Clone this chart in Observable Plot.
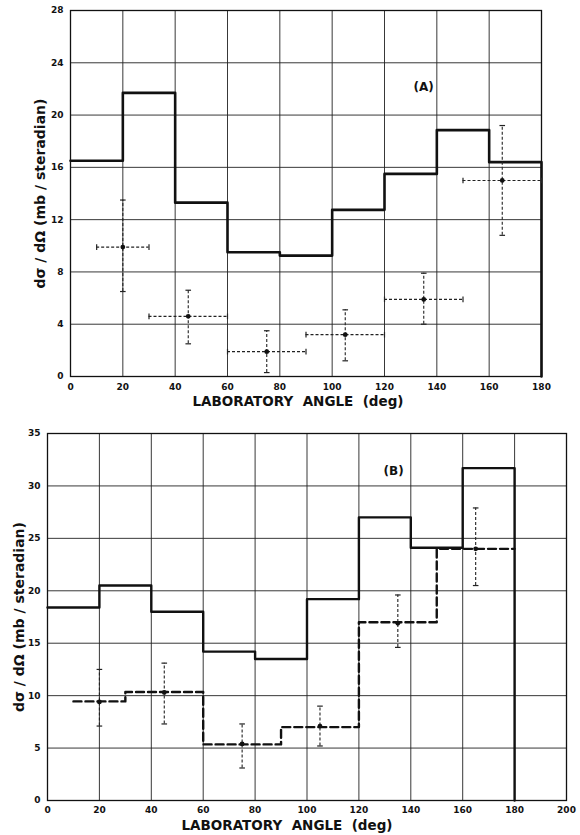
<!DOCTYPE html>
<html>
<head>
<meta charset="utf-8">
<script src="https://cdn.jsdelivr.net/npm/d3@7"></script>
<script src="https://cdn.jsdelivr.net/npm/@observablehq/plot@0.6"></script>
<style>
  html, body { margin: 0; padding: 0; background: #fff; }
  #chart { width: 580px; height: 835px; position: relative; }
  #chart svg { display: block; }
</style>
</head>
<body>
<div id="chart"></div>
<script>
// ---------- Panel (A) data ----------
const edgesA = [0, 20, 40, 60, 80, 100, 120, 140, 160, 180];
const histA = [16.5, 21.7, 13.3, 9.5, 9.25, 12.75, 15.5, 18.85, 16.4];
const ptAngleA = [20, 45, 75, 105, 135, 165];
const ptValueA = [9.9, 4.6, 1.9, 3.2, 5.9, 15.0];
const ptLowA   = [6.5, 2.5, 0.3, 1.2, 4.0, 10.8];
const ptHighA  = [13.5, 6.6, 3.5, 5.1, 7.9, 19.2];
const ptLeftA  = [10, 30, 60, 90, 120, 150];
const ptRightA = [30, 60, 90, 120, 150, 180];
const xTicksA = [0, 20, 40, 60, 80, 100, 120, 140, 160, 180];
const xTickLabelsA = ["0", "20", "40", "60", "80", "100", "120", "140", "160", "180"];
const yTicksA = [0, 4, 8, 12, 16, 20, 24, 28];

// ---------- Panel (B) data ----------
const edgesB = [0, 20, 40, 60, 80, 100, 120, 140, 160, 180];
const histB = [18.4, 20.5, 18.0, 14.2, 13.5, 19.2, 27.0, 24.1, 31.7];
const edgesB2 = [10, 30, 60, 90, 120, 150, 180];
const histB2 = [9.45, 10.35, 5.35, 7.0, 17.0, 24.0];
const ptAngleB = [20, 45, 75, 105, 135, 165];
const ptValueB = [9.4, 10.3, 5.4, 7.1, 16.9, 24.0];
const ptLowB   = [7.1, 7.3, 3.1, 5.2, 14.6, 20.5];
const ptHighB  = [12.5, 13.1, 7.3, 9.0, 19.6, 27.9];
const xTicksB = [0, 20, 40, 60, 80, 100, 120, 140, 160, 180, 200];
const yTicksB = [0, 5, 10, 15, 20, 25, 30, 35];

const xTitle = "LABORATORY  ANGLE  (deg)";
const yTitle = "dσ / dΩ (mb / steradian)";

// ---------- helpers ----------
function steps(edges, values, dropToZero) {
  const pts = values.map((v, i) => ({x: edges[i], y: v}));
  pts.push({x: edges[edges.length - 1], y: values[values.length - 1]});
  if (dropToZero) pts.push({x: edges[edges.length - 1], y: 0});
  return pts;
}
const capH = {draw(ctx, size) { const r = Math.sqrt(size / Math.PI); ctx.moveTo(-r, 0); ctx.lineTo(r, 0); }};
const capV = {draw(ctx, size) { const r = Math.sqrt(size / Math.PI); ctx.moveTo(0, -r); ctx.lineTo(0, r); }};

const FONT = "DejaVu Sans, Liberation Sans, sans-serif";
const dash = "3,2";

const ptsA = ptAngleA.map((x, i) => ({x, y: ptValueA[i], lo: ptLowA[i], hi: ptHighA[i], l: ptLeftA[i], r: ptRightA[i]}));
const ptsB = ptAngleB.map((x, i) => ({x, y: ptValueB[i], lo: ptLowB[i], hi: ptHighB[i]}));

// ---------- Panel A ----------
const plotA = Plot.plot({
  width: 580, height: 420,
  marginLeft: 70, marginRight: 39, marginTop: 10, marginBottom: 44,
  style: {fontFamily: FONT, fontSize: "9px", color: "#111", background: "#fff"},
  x: {domain: [0, 180]},
  y: {domain: [0, 28]},
  marks: [
    Plot.gridX(xTicksA, {stroke: "#222", strokeOpacity: 0.9, strokeWidth: 1}),
    Plot.gridY(yTicksA, {stroke: "#222", strokeOpacity: 0.9, strokeWidth: 1}),
    Plot.frame({stroke: "#111", strokeWidth: 1.3}),
    Plot.axisX(xTicksA, {tickSize: 0, tickPadding: 7, label: null, tickFormat: (d, i) => xTickLabelsA[i], fontWeight: "bold"}),
    Plot.axisY(yTicksA, {tickSize: 0, tickPadding: 7, label: null, fontWeight: "bold"}),
    Plot.line(steps(edgesA, histA, true), {x: "x", y: "y", curve: "step-after", stroke: "#111", strokeWidth: 2.6}),
    // vertical error bars
    Plot.ruleX(ptsA, {x: "x", y1: "lo", y2: "hi", stroke: "#222", strokeWidth: 1.1, strokeDasharray: dash}),
    Plot.dot(ptsA, {x: "x", y: "lo", symbol: capH, r: 2.8, stroke: "#222", strokeWidth: 1.2}),
    Plot.dot(ptsA, {x: "x", y: "hi", symbol: capH, r: 2.8, stroke: "#222", strokeWidth: 1.2}),
    // horizontal error bars
    Plot.ruleY(ptsA, {y: "y", x1: "l", x2: "r", stroke: "#222", strokeWidth: 1.1, strokeDasharray: dash}),
    Plot.dot(ptsA, {x: "l", y: "y", symbol: capV, r: 2.8, stroke: "#222", strokeWidth: 1.2}),
    Plot.dot(ptsA, {x: "r", y: "y", symbol: capV, r: 2.8, stroke: "#222", strokeWidth: 1.2}),
    Plot.dot(ptsA, {x: "x", y: "y", r: 2.4, fill: "#111"}),
    Plot.text(["(A)"], {frameAnchor: "top-left", dx: 343, dy: 72, fontSize: 12, fontWeight: "bold", fill: "#111"}),
    Plot.text([xTitle], {frameAnchor: "bottom", textAnchor: "middle", dx: -8, dy: 29, fontSize: 13.5, fontWeight: "bold", fill: "#111", style: "letter-spacing:1px"}),
    Plot.text([yTitle], {frameAnchor: "left", textAnchor: "middle", dx: -30, rotate: -90, fontSize: 14, fontWeight: "bold", fill: "#111"})
  ]
});

// ---------- Panel B ----------
const plotB = Plot.plot({
  width: 580, height: 415,
  marginLeft: 47, marginRight: 14, marginTop: 13, marginBottom: 35,
  style: {fontFamily: FONT, fontSize: "9px", color: "#111", background: "#fff"},
  x: {domain: [0, 200]},
  y: {domain: [0, 35]},
  marks: [
    Plot.gridX(xTicksB, {stroke: "#222", strokeOpacity: 0.9, strokeWidth: 1}),
    Plot.gridY(yTicksB, {stroke: "#222", strokeOpacity: 0.9, strokeWidth: 1}),
    Plot.frame({stroke: "#111", strokeWidth: 1.3}),
    Plot.axisX(xTicksB, {tickSize: 0, tickPadding: 6, label: null, fontWeight: "bold"}),
    Plot.axisY(yTicksB, {tickSize: 0, tickPadding: 7, label: null, fontWeight: "bold"}),
    Plot.line(steps(edgesB, histB, true), {x: "x", y: "y", curve: "step-after", stroke: "#111", strokeWidth: 2.4}),
    Plot.line(steps(edgesB2, histB2, false), {x: "x", y: "y", curve: "step-after", stroke: "#111", strokeWidth: 2.4, strokeDasharray: "8,4"}),
    Plot.ruleX(ptsB, {x: "x", y1: "lo", y2: "hi", stroke: "#222", strokeWidth: 1.1, strokeDasharray: dash}),
    Plot.dot(ptsB, {x: "x", y: "lo", symbol: capH, r: 2.8, stroke: "#222", strokeWidth: 1.2}),
    Plot.dot(ptsB, {x: "x", y: "hi", symbol: capH, r: 2.8, stroke: "#222", strokeWidth: 1.2}),
    Plot.dot(ptsB, {x: "x", y: "y", r: 2.4, fill: "#111"}),
    Plot.text(["(B)"], {frameAnchor: "top-left", dx: 336, dy: 33, fontSize: 12, fontWeight: "bold", fill: "#111"}),
    Plot.text([xTitle], {frameAnchor: "bottom", textAnchor: "middle", dx: -20, dy: 29, fontSize: 13.5, fontWeight: "bold", fill: "#111", style: "letter-spacing:1px"}),
    Plot.text([yTitle], {frameAnchor: "left", textAnchor: "middle", dx: -28, rotate: -90, fontSize: 14, fontWeight: "bold", fill: "#111"})
  ]
});

const chart = document.getElementById("chart");
chart.appendChild(plotA);
chart.appendChild(plotB);
</script>
</body>
</html>
